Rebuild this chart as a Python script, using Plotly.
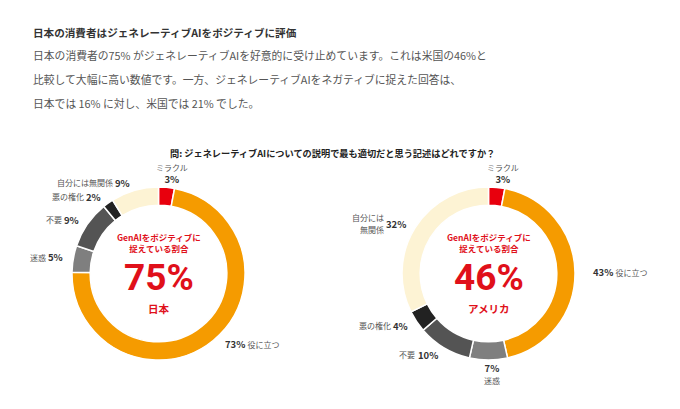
import math
import plotly.graph_objects as go

# ---------------- data ----------------
categories = ["ミラクル", "役に立つ", "迷惑", "不要", "悪の権化", "自分には無関係"]
japan_values = [3, 73, 5, 9, 2, 9]
us_values = [3, 43, 7, 10, 4, 32]
japan_positive = 75
us_positive = 46
chart_names = ["日本", "アメリカ"]

title_text = "日本の消費者はジェネレーティブAIをポジティブに評価"
body_lines = [
    "日本の消費者の75% がジェネレーティブAIを好意的に受け止めています。これは米国の46%と",
    "比較して大幅に高い数値です。一方、ジェネレーティブAIをネガティブに捉えた回答は、",
    "日本では 16% に対し、米国では 21% でした。",
]
question_text = "問: ジェネレーティブAIについての説明で最も適切だと思う記述はどれですか？"
center_caption = "GenAIをポジティブに<br>捉えている割合"

# ---------------- style ----------------
W, H = 680, 409
FONT = "Noto Sans CJK JP"
slice_colors = ["#e8000d", "#f59b00", "#7f7f7f", "#545454", "#222222", "#fdf3d4"]
RED = "#e0101a"
R_OUT = 86.5
centers = [(158.5, 273.5), (488.5, 273.5)]
wrap_names = [{}, {"自分には無関係": "自分には<br>無関係"}]


def px(x):
    return x / W


def py(y):
    return 1 - y / H


fig = go.Figure()
annotations = []

for idx, (vals, (cx, cy)) in enumerate(zip([japan_values, us_values], centers)):
    fig.add_trace(go.Pie(
        labels=categories, values=vals, sort=False, direction="clockwise",
        rotation=0, hole=0.79, textinfo="none", showlegend=False,
        marker=dict(colors=slice_colors, line=dict(color="white", width=1.5)),
        domain=dict(x=[px(cx - R_OUT), px(cx + R_OUT)], y=[py(cy + R_OUT), py(cy - R_OUT)]),
        hovertemplate="%{label}: %{value}%<extra></extra>",
    ))
    total = sum(vals)
    cum = 0
    for name, v in zip(categories, vals):
        mid = (cum + v / 2) / total * 2 * math.pi
        cum += v
        s, c = math.sin(mid), math.cos(mid)
        nm = wrap_names[idx].get(name, name)
        pct = f"<b>{v}%</b>"
        name_span = f"<span style='color:#555555;font-size:8px'>{nm}</span>"
        if c > 0.985:  # top
            r = R_OUT - 1
            annotations.append(dict(x=px(cx + r * s + 6), y=py(cy - r * c), text=name_span + "<br>" + pct,
                                    xanchor="center", yanchor="bottom", align="center"))
        elif c < -0.985:  # bottom
            r = R_OUT - 1
            annotations.append(dict(x=px(cx + r * s + 3), y=py(cy - r * c), text=pct + "<br>" + name_span,
                                    xanchor="center", yanchor="top", align="center"))
        elif s > 0:  # right
            annotations.append(dict(x=px(cx + (R_OUT + 16) * s), y=py(cy - (R_OUT + 4) * c),
                                    text=pct + " " + name_span,
                                    xanchor="left", yanchor="middle", align="left"))
        else:  # left
            r = R_OUT + 8
            xe, ye = cx + r * s, cy - r * c
            annotations.append(dict(x=px(xe), y=py(ye), text=pct, xanchor="right", yanchor="middle"))
            annotations.append(dict(x=px(xe - 5.5 * len(f"{v}%") - 6), y=py(ye), text=name_span,
                                    xanchor="right", yanchor="middle", align="right"))

for (cx, cy), pos, nm in zip(centers, [japan_positive, us_positive], chart_names):
    annotations.append(dict(x=px(cx), y=py(cy - 31), text=f"<b>{center_caption}</b>",
                            font=dict(size=8.5, color=RED), xanchor="center", yanchor="middle"))
    annotations.append(dict(x=px(cx), y=py(cy + 4), text=f"<b>{pos}%</b>",
                            font=dict(size=37, color=RED, family="Roboto"), xanchor="center", yanchor="middle"))
    annotations.append(dict(x=px(cx), y=py(cy + 35), text=f"<b>{nm}</b>",
                            font=dict(size=10.5, color=RED), xanchor="center", yanchor="middle"))

annotations.append(dict(x=px(31), y=py(32), text=f"<b>{title_text}</b>", xanchor="left", yanchor="middle",
                        font=dict(size=10.6, color="#333333")))
for i, line in enumerate(body_lines):
    annotations.append(dict(x=px(31), y=py(55 + 24 * i), text=line, xanchor="left", yanchor="middle",
                            font=dict(size=10.8, color="#555555")))
annotations.append(dict(x=px(332), y=py(153), text=f"<b>{question_text}</b>", xanchor="center",
                        yanchor="middle", font=dict(size=9.2, color="#222222")))

for a in annotations:
    a.setdefault("xref", "paper")
    a.setdefault("yref", "paper")
    a.setdefault("showarrow", False)
    a.setdefault("font", dict(size=9.5, color="#333333"))

fig.update_layout(
    width=W, height=H, margin=dict(l=0, r=0, t=0, b=0),
    paper_bgcolor="white", plot_bgcolor="white",
    font=dict(family=FONT, color="#333333"),
    annotations=annotations,
)
fig.write_html("out.html", config={"displayModeBar": False},
               post_script="document.body.style.margin='0';document.body.style.overflow='hidden';")
